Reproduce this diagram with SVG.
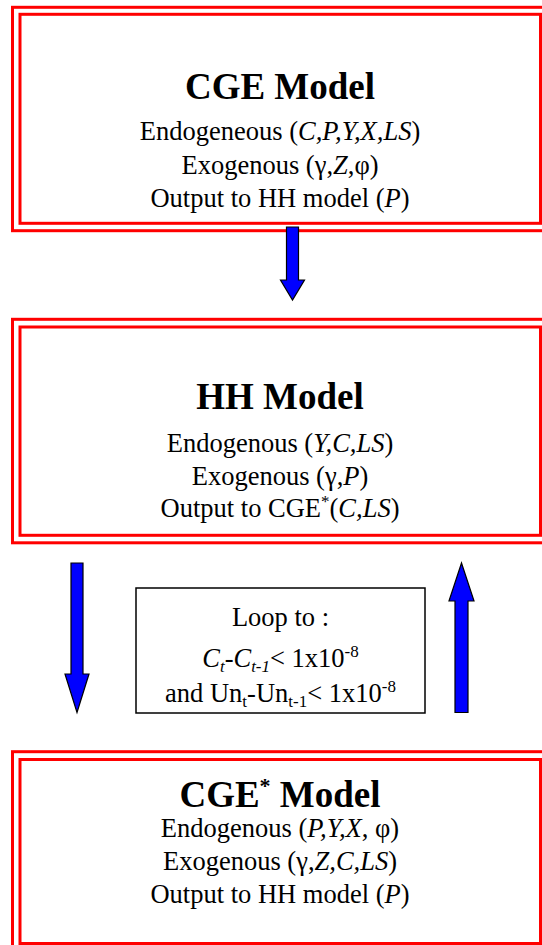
<svg xmlns="http://www.w3.org/2000/svg" width="542" height="945" viewBox="0 0 542 945">
<style>
.frame{fill:none;stroke:#FF0000;stroke-width:3}
.t{font-family:"Liberation Serif","Times New Roman",serif;font-size:26.5px;fill:#000;text-anchor:middle}
.title{font-family:"Liberation Serif","Times New Roman",serif;font-size:37px;font-weight:bold;fill:#000;text-anchor:middle}
.i{font-style:italic}
.arrow{fill:#0000FF;stroke:#000;stroke-width:1.2}
.loop{fill:#fff;stroke:#000;stroke-width:1.5}
</style>
<rect width="542" height="945" fill="#fff"/>
<g id="cge">
<rect class="frame" x="12.5" y="7.3" width="545" height="223.4"/>
<rect class="frame" x="20" y="14.3" width="520.5" height="209"/>
<text class="title" x="280" y="98.5">CGE Model</text>
<text class="t" x="280" y="140">Endogeneous (<tspan class="i">C,P,Y,X,LS</tspan>)</text>
<text class="t" x="280" y="173.5">Exogenous (γ,<tspan class="i">Z</tspan>,φ)</text>
<text class="t" x="280" y="207">Output to HH model (<tspan class="i">P</tspan>)</text>
</g>
<g id="hh">
<rect class="frame" x="12.5" y="319.3" width="545" height="223.5"/>
<rect class="frame" x="20" y="327" width="520.5" height="208.3"/>
<text class="title" x="280" y="409">HH Model</text>
<text class="t" x="280" y="452">Endogenous (<tspan class="i">Y,C,LS</tspan>)</text>
<text class="t" x="280" y="485">Exogenous (γ,<tspan class="i">P</tspan>)</text>
<text class="t" x="280" y="517">Output to CGE<tspan font-size="17" dy="-10">*</tspan><tspan dy="10">(</tspan><tspan class="i">C,LS</tspan>)</text>
</g>
<g id="cge-star">
<rect class="frame" x="12.5" y="751.7" width="545" height="220"/>
<rect class="frame" x="20" y="759.5" width="520.5" height="184"/>
<text class="title" x="280" y="806.5">CGE<tspan font-size="22" dy="-14">*</tspan><tspan dy="14"> Model</tspan></text>
<text class="t" x="280" y="836.5">Endogenous (<tspan class="i">P,Y,X</tspan>, φ)</text>
<text class="t" x="280" y="869.5">Exogenous (γ,<tspan class="i">Z,C,LS</tspan>)</text>
<text class="t" x="280" y="902.5">Output to HH model (<tspan class="i">P</tspan>)</text>
</g>
<g id="loop">
<rect class="loop" x="136" y="588" width="289" height="125"/>
<text class="t" x="280.5" y="625.5">Loop to :</text>
<text class="t" x="280.5" y="667"><tspan class="i">C</tspan><tspan class="i" font-size="17" dy="5">t</tspan><tspan dy="-5">-</tspan><tspan class="i">C</tspan><tspan class="i" font-size="17" dy="5">t-1</tspan><tspan dy="-5">&lt; 1x10</tspan><tspan font-size="17" dy="-10">-8</tspan></text>
<text class="t" x="280.5" y="702">and Un<tspan font-size="17" dy="5">t</tspan><tspan dy="-5">-Un</tspan><tspan font-size="17" dy="5">t-1</tspan><tspan dy="-5">&lt; 1x10</tspan><tspan font-size="17" dy="-10">-8</tspan></text>
</g>
<g id="connectors">
<polygon class="arrow" points="286.5,227 298.5,227 298.5,280 304.5,280 292.5,300 280.5,280 286.5,280"/>
<polygon class="arrow" points="71,563 83,563 83,674 89,674 77,712.5 65,674 71,674"/>
<polygon class="arrow" points="455,712.5 468,712.5 468,601 474,601 461.5,563 449,601 455,601"/>
</g>
</svg>
